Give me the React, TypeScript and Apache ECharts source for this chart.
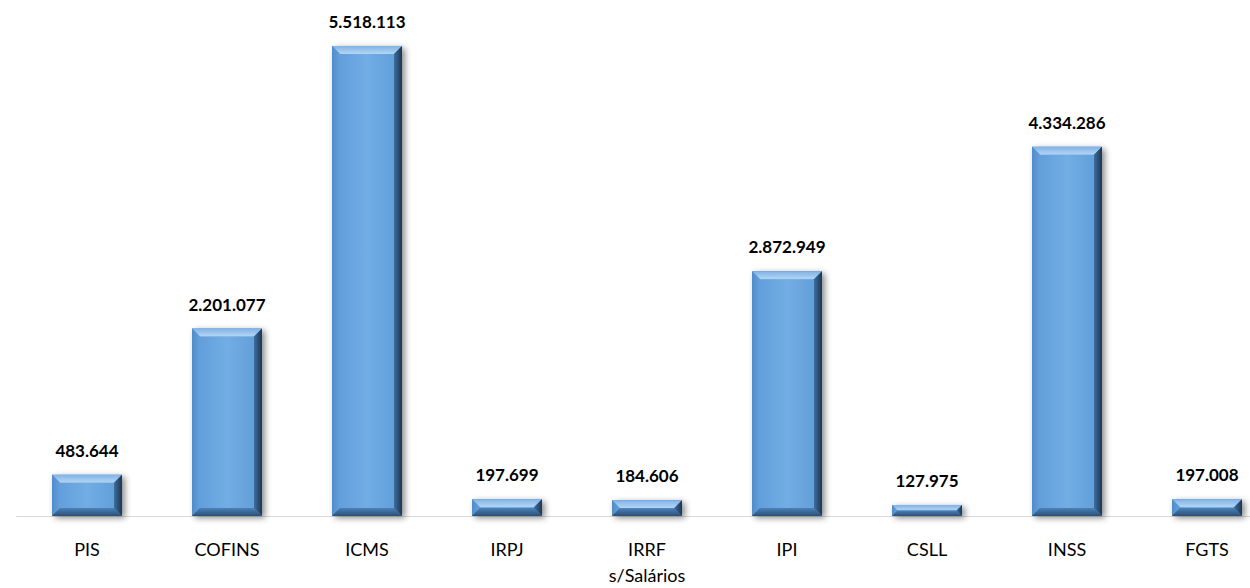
import React, { useEffect, useRef } from "react";
import * as echarts from "echarts";

const categories = ["PIS", "COFINS", "ICMS", "IRPJ", "IRRF\ns/Salários", "IPI", "CSLL", "INSS", "FGTS"];
const values = [483644, 2201077, 5518113, 197699, 184606, 2872949, 127975, 4334286, 197008];

function fmt(v: number): string {
  return String(v).replace(/\B(?=(\d{3})+(?!\d))/g, ".");
}

export default function App() {
  const ref = useRef<HTMLDivElement>(null);
  useEffect(() => {
    if (!ref.current) return;
    const chart = echarts.init(ref.current, null, { renderer: "svg" });
    const renderItem = (params: any, api: any) => {
      const idx = api.value(0);
      const val = api.value(1);
      const top = api.coord([idx, val]);
      const base = api.coord([idx, 0]);
      const bw = api.size([1, 0])[0] * 0.5;
      const x0 = top[0] - bw / 2;
      const x1 = top[0] + bw / 2;
      const y0 = top[1];
      const y1 = base[1];
      const h = y1 - y0;
      const b = Math.min(8, h / 2);
      return {
        type: "group",
        children: [
          {
            type: "rect",
            shape: { x: x0, y: y0, width: bw, height: h },
            style: {
              fill: "#4a83bd",
              shadowBlur: 6,
              shadowOffsetX: 3,
              shadowOffsetY: 2,
              shadowColor: "rgba(0,0,0,0.45)",
            },
          },
          {
            type: "rect",
            shape: { x: x0 + b, y: y0 + b, width: bw - 2 * b, height: Math.max(0, h - 2 * b) },
            style: {
              fill: new echarts.graphic.LinearGradient(0, 0, 1, 0, [
                { offset: 0, color: "#629fdb" },
                { offset: 0.5, color: "#72ade4" },
                { offset: 1, color: "#62a0da" },
              ]),
            },
          },
          {
            type: "polygon",
            shape: { points: [[x0, y0], [x1, y0], [x1 - b, y0 + b], [x0 + b, y0 + b]] },
            style: {
              fill: new echarts.graphic.LinearGradient(0, 0, 0, 1, [
                { offset: 0, color: "#7fb3e6" },
                { offset: 1, color: "#b5d6f4" },
              ]),
            },
          },
          {
            type: "polygon",
            shape: { points: [[x0, y0], [x0 + b, y0 + b], [x0 + b, y1 - b], [x0, y1]] },
            style: {
              fill: new echarts.graphic.LinearGradient(0, 0, 1, 0, [
                { offset: 0, color: "#4f8cc9" },
                { offset: 1, color: "#63a0dc" },
              ]),
            },
          },
          {
            type: "polygon",
            shape: { points: [[x1, y0], [x1, y1], [x1 - b, y1 - b], [x1 - b, y0 + b]] },
            style: {
              fill: new echarts.graphic.LinearGradient(0, 0, 1, 0, [
                { offset: 0, color: "#3d6e9f" },
                { offset: 1, color: "#1d3550" },
              ]),
            },
          },
          {
            type: "polygon",
            shape: { points: [[x0, y1], [x1, y1], [x1 - b, y1 - b], [x0 + b, y1 - b]] },
            style: {
              fill: new echarts.graphic.LinearGradient(0, 0, 0, 1, [
                { offset: 0, color: "#4b82ba" },
                { offset: 1, color: "#2b4f75" },
              ]),
            },
          },
          {
            type: "text",
            style: {
              x: top[0],
              y: y0 - 16,
              text: fmt(val),
              fill: "#000",
              font: "bold 17px Lato, 'Open Sans', sans-serif",
              align: "center",
              verticalAlign: "bottom",
            },
          },
        ],
      };
    };
    chart.setOption({
      animation: false,
      grid: { left: 17, right: 3, top: 46, bottom: 70, containLabel: false },
      xAxis: {
        type: "category",
        data: categories,
        axisLine: { show: true, lineStyle: { color: "#d9d9d9", width: 1 } },
        axisTick: { show: false },
        axisLabel: {
          interval: 0,
          color: "#000",
          fontSize: 18,
          fontFamily: "Lato, 'Open Sans', sans-serif",
          margin: 20,
          lineHeight: 26,
        },
      },
      yAxis: {
        type: "value",
        min: 0,
        max: 5518113,
        show: false,
        splitLine: { show: false },
      },
      series: [
        {
          type: "custom",
          renderItem,
          data: values.map((v, i) => [i, v]),
          clip: false,
        },
      ],
    });
    return () => chart.dispose();
  }, []);
  return (
    <div style={{ position: "absolute", left: 0, top: 0, width: 1250, height: 588, overflow: "hidden", background: "#fff" }}>
      <div ref={ref} style={{ width: 1280, height: 588 }} />
    </div>
  );
}
